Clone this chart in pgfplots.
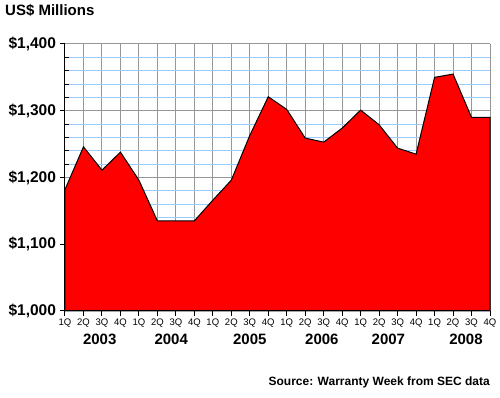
\documentclass[border=0pt]{standalone}
\usepackage{fontspec}
\setmainfont{Liberation Sans}
\usepackage{pgfplots}
\pgfplotsset{compat=1.18}
\usetikzlibrary{calc}
\definecolor{gridblue}{RGB}{153,204,255}
\definecolor{gridgrey}{RGB}{150,150,150}
\begin{document}
\begin{tikzpicture}
\begin{axis}[
  scale only axis, width=425pt, height=267pt,
  xmin=0, xmax=23, ymin=1000, ymax=1400,
  axis x line*=bottom, axis y line*=left,
  axis line style={black, line width=1pt, -},
  xtick={0,...,23},
  xticklabels={1Q,2Q,3Q,4Q,1Q,2Q,3Q,4Q,1Q,2Q,3Q,4Q,1Q,2Q,3Q,4Q,1Q,2Q,3Q,4Q,1Q,2Q,3Q,4Q},
  xticklabel style={font=\fontsize{9.5}{10}\selectfont, yshift=1pt},
  ytick={1000,1100,1200,1300,1400},
  yticklabels={{\$1,000},{\$1,100},{\$1,200},{\$1,300},{\$1,400}},
  yticklabel style={font=\fontsize{15.5}{17}\selectfont\bfseries, xshift=-0.5pt},
  minor ytick={1020,1040,1060,1080,1120,1140,1160,1180,1220,1240,1260,1280,1320,1340,1360,1380},
  tick align=outside,
  major tick length=5pt,
  minor tick length=4pt,
  tick style={black, line width=1pt},
  minor y tick style={xshift=4pt},
  grid=both,
  major grid style={gridgrey, line width=1pt},
  minor grid style={gridblue, line width=1pt},
  axis on top=false,
  clip=false,
]
\addplot[fill=red, draw=black, line width=1pt] coordinates {
(0,1182) (1,1246) (2,1211) (3,1238) (4,1196) (5,1135) (6,1135) (7,1135)
(8,1166) (9,1196) (10,1263) (11,1321) (12,1302) (13,1259) (14,1253) (15,1274)
(16,1301) (17,1279) (18,1244) (19,1235) (20,1350) (21,1355) (22,1290) (23,1290)
} \closedcycle;
\draw[black, line width=1pt] (rel axis cs:0,0) -- (rel axis cs:0,1);
\draw[black, line width=1pt] (rel axis cs:0,0) -- (rel axis cs:1,0);
\path (rel axis cs:0,0) ++(-65pt,-87pt) coordinate (BL);
\end{axis}
\path (BL) rectangle ++(500pt,398pt);
\node[anchor=base west, inner sep=0pt, font=\fontsize{15}{17}\selectfont\bfseries] at ($(BL)+(5pt,382pt)$) {US\$ Millions};
\foreach \q/\yr in {1.88/2003, 5.75/2004, 10.0/2005, 13.9/2006, 17.5/2007, 21.7/2008}{
  \node[anchor=base, font=\fontsize{15}{17}\selectfont\bfseries] at ($(BL)+(65pt+\q*18.478pt,53pt)$) {\yr};
}
\node[anchor=base east, inner sep=0pt, font=\fontsize{12}{14}\selectfont\bfseries] at ($(BL)+(490pt,12pt)$) {Source: Warranty Week from SEC data};
\end{tikzpicture}
\end{document}
